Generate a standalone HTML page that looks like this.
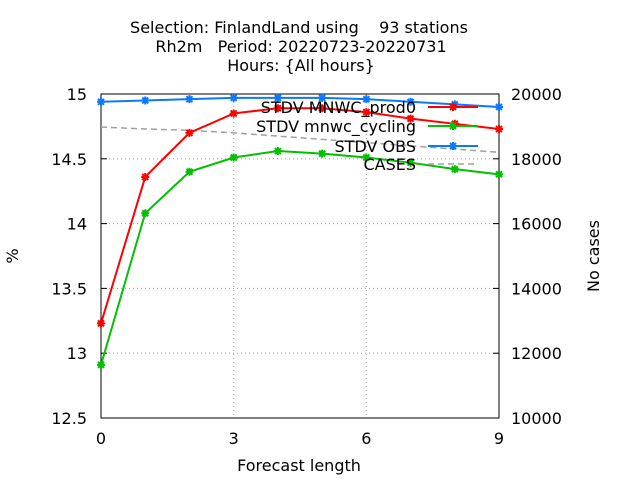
<!DOCTYPE html>
<html><head><meta charset="utf-8"><style>body{margin:0;background:#fff}svg{font-family:"DejaVu Sans","Liberation Sans",sans-serif}text{white-space:pre}</style></head>
<body>
<svg id="c" width="640" height="480" xmlns="http://www.w3.org/2000/svg"></svg>
<script>
const steps=[0,1,2,3,4,5,6,7,8,9];
const prod0=[13.23,14.36,14.70,14.85,14.89,14.89,14.86,14.81,14.77,14.73];
const cycling=[12.91,14.08,14.40,14.51,14.56,14.54,14.51,14.47,14.42,14.38];
const obs=[14.94,14.95,14.96,14.97,14.97,14.97,14.96,14.94,14.92,14.90];
const cases=[18980,18920,18880,18800,18700,18600,18500,18400,18300,18200];
const yTicks=[12.5,13,13.5,14,14.5,15];
const y2Ticks=[10000,12000,14000,16000,18000,20000];
const xTicks=[0,3,6,9];
const L=101,R=499,T=94,B=418;
const X=v=>L+(v-0)/9*(R-L);
const Y=v=>B-(v-12.5)/2.5*(B-T);
const Y2=v=>B-(v-10000)/10000*(B-T);
const s=document.getElementById('c');const NS='http://www.w3.org/2000/svg';
function mk(t,a,p){const e=document.createElementNS(NS,t);for(const k in a)e.setAttribute(k,a[k]);(p||s).appendChild(e);return e;}
function tx(x,y,str,anchor,name,extra){const e=mk('text',Object.assign({x:x,y:y,'font-size':16,'text-anchor':anchor||'middle',fill:'#000'},extra||{}));e.textContent=str;

return e;}
yTicks.forEach(v=>{if(v>12.5&&v<15){const g=mk('line',{x1:L,x2:R,y1:Y(v),y2:Y(v),stroke:'#a0a0a0','stroke-dasharray':'1,3'});

}
const t=mk('line',{x1:L,x2:L+6,y1:Y(v),y2:Y(v),stroke:'#000'});


tx(L-14,Y(v)+6,String(v),'end','y-tick-label');});
y2Ticks.forEach(v=>{const t=mk('line',{x1:R-6,x2:R,y1:Y2(v),y2:Y2(v),stroke:'#000'});


tx(R+12,Y2(v)+6,String(v),'start','y2-tick-label');});
xTicks.forEach(v=>{if(v>0&&v<9){const g=mk('line',{x1:X(v),x2:X(v),y1:T,y2:B,stroke:'#a0a0a0','stroke-dasharray':'1,3'});

}
tx(X(v),B+26,String(v),'middle','x-tick-label');});
const fr=mk('rect',{x:L,y:T,width:R-L,height:B-T,fill:'none',stroke:'#000'});


tx(299,33,'Selection: FinlandLand using    93 stations','middle','title-line1');
tx(301,52,'Rh2m   Period: 20220723-20220731','middle','title-line2');
tx(301,71,'Hours: {All hours}','middle','title-line3');
tx(299,471,'Forecast length','middle','x-axis-title');
tx(18,256,'%','middle','y-axis-title',{transform:'rotate(-90 18 256)'});
tx(599,256,'No cases','middle','y2-axis-title',{transform:'rotate(-90 599 256)'});
const cp=mk('polyline',{points:steps.map((d,i)=>X(d)+','+Y2(cases[i])).join(' '),fill:'none',stroke:'#a0a0a0','stroke-width':1.5,'stroke-dasharray':'6,4'});


function star(x,y,c,name){const g=mk('path',{d:`M${x-4},${y}h8M${x},${y-4}v8M${x-3},${y-3}l6,6M${x-3},${y+3}l6,-6`,stroke:c,'stroke-width':2});

}
function series(vals,c,name){const p=mk('polyline',{points:steps.map((d,i)=>X(d)+','+Y(vals[i])).join(' '),fill:'none',stroke:c,'stroke-width':2});


steps.forEach((d,i)=>star(X(d),Y(vals[i]),c,name+'-point'));}
series(obs,'#0a78ff','obs');series(prod0,'#ff0000','prod0');series(cycling,'#00c000','cycling');
const leg=[['STDV MNWC_prod0','#ff0000',107],['STDV mnwc_cycling','#00c000',126],['STDV OBS','#0a78ff',146],['CASES','#a0a0a0',164]];
leg.forEach((e,i)=>{tx(416,e[2]+6,e[0],'end','legend-label');
const l=mk('line',{x1:428,x2:478,y1:e[2],y2:e[2],stroke:e[1],'stroke-width':i==3?1.5:2,'stroke-dasharray':i==3?'6,4':'none'});


if(i<3)star(453,e[2],e[1],'legend-marker');});
</script>
</body></html>
